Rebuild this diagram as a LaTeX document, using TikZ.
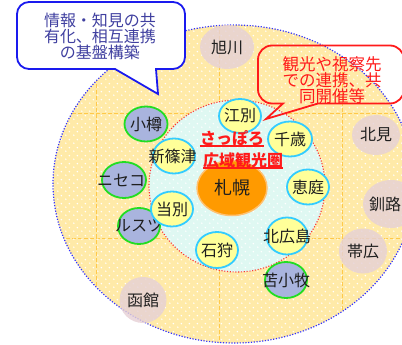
\documentclass[tikz,border=0pt]{standalone}
\usepackage{fontspec}
\newfontfamily\jp{Noto Sans CJK JP}
\usetikzlibrary{shapes.geometric,patterns.meta}
\definecolor{outerfill}{HTML}{FFEAA8}
\definecolor{innerfill}{HTML}{DFF8F2}
\definecolor{gridc}{HTML}{FFC94A}
\definecolor{bluedot}{HTML}{3333FF}
\definecolor{reddot}{HTML}{FF3333}
\definecolor{ylw}{HTML}{FFFF99}
\definecolor{cyanb}{HTML}{33CCFF}
\definecolor{lav}{HTML}{A9B4DE}
\definecolor{grn}{HTML}{22DD22}
\definecolor{pnk}{HTML}{E6D1D6}
\definecolor{org}{HTML}{FF9A00}
\definecolor{orgedge}{HTML}{FFC070}
\definecolor{txt}{HTML}{1E1E1E}
\definecolor{calloutblue}{HTML}{1A1AEE}
\definecolor{bluetxt}{HTML}{4040A0}
\definecolor{redc}{HTML}{FF1A1A}
\newcommand\zw[1]{\makebox[0pt]{#1}}
\tikzdeclarepattern{
  name=wdots,
  type=uncolored,
  bounding box={(0pt,0pt) and (8pt,8pt)},
  tile size={(8pt,8pt)},
  code={
    \fill (2pt,2pt) circle (0.9pt);
    \fill (6pt,6pt) circle (0.9pt);
  }
}
\begin{document}
\begin{tikzpicture}[x=1pt,y=-1pt,
  lbl/.style={font=\jp\fontsize{16}{17}\selectfont, text=txt},
  yc/.style={ellipse, lbl, fill=ylw, draw=cyanb, line width=1.8pt, inner sep=0pt},
  lc/.style={ellipse, lbl, fill=lav, draw=grn, line width=1.8pt, inner sep=0pt},
  pc/.style={ellipse, lbl, fill=pnk, fill opacity=0.82, text opacity=1, inner sep=0pt},
  gridline/.style={draw=gridc, line width=0.9pt, dash pattern=on 4pt off 2pt},
  saplabel/.style={font=\jp\bfseries\fontsize{16}{17}\selectfont, text=redc, inner sep=0pt},
  bluecall/.style={draw=calloutblue, fill=white, line width=1.8pt, line join=miter},
  redcall/.style={draw=redc, line width=1.8pt, line join=miter},
  bluetext/.style={font=\jp\fontsize{16}{16}\selectfont, text=bluetxt, align=center, inner sep=0pt},
  redtext/.style={font=\jp\fontsize{16.5}{16}\selectfont, text=redc, align=center, inner sep=0pt}
]
\useasboundingbox (0,0) rectangle (402,345);
\clip (0,0) rectangle (402,345);
% background ellipses
\fill[outerfill] (234,184) ellipse [x radius=181, y radius=159];
\begin{scope}
  \clip (234,184) ellipse [x radius=181, y radius=159];
  \foreach \x in {96,219,342} \draw[gridline] (\x,0) -- (\x,345);
  \foreach \y in {113,238} \draw[gridline] (0,\y) -- (402,\y);
  \fill[innerfill] (237,186) ellipse [x radius=88, y radius=86];
  \fill[pattern=wdots, pattern color=white] (0,0) rectangle (402,345);
\end{scope}
\draw[bluedot, line width=1.2pt, dash pattern=on 1.2pt off 1.6pt] (234,184) ellipse [x radius=181, y radius=159];
\draw[reddot, line width=1.1pt, dash pattern=on 1.1pt off 1.7pt] (237,186) ellipse [x radius=88, y radius=86];

% pink (outer region)
\node[pc, minimum width=54, minimum height=44] (asahikawa) at (227,47) {\zw{旭川}};
\node[pc, minimum width=48, minimum height=40] (kitami) at (376,135) {\zw{北見}};
\node[pc, minimum width=56, minimum height=48] (kushiro) at (391,204) {\zw{\hspace*{-12pt}釧路}};
\node[pc, minimum width=48, minimum height=45] (obihiro) at (363,251) {\zw{帯広}};
\node[pc, minimum width=47, minimum height=46] (hakodate) at (143,300) {\zw{函館}};

% lavender (green border)
\node[lc, minimum width=43, minimum height=35] (otaru) at (146,124) {\zw{小樽}};
\node[lc, minimum width=44, minimum height=36] (niseko) at (124,180) {\zw{\hspace*{-6pt}ニセコ}};
\node[lc, minimum width=42, minimum height=36] (rusutsu) at (139,226) {\zw{ルスツ}};
\node[lc, minimum width=42, minimum height=36] (tomakomai) at (286,280) {\zw{苫小牧}};

% yellow (cyan border)
\node[yc, minimum width=42, minimum height=34] (ebetsu) at (240,116) {\zw{江別}};
\node[yc, minimum width=44, minimum height=35] (chitose) at (290,139) {\zw{千歳}};
\node[yc, minimum width=42, minimum height=35] (shinshino) at (174,156) {\zw{\hspace*{-3pt}新篠津}};
\node[yc, minimum width=42, minimum height=35] (tobetsu) at (172,209) {\zw{当別}};
\node[yc, minimum width=42, minimum height=36] (ishikari) at (217,250) {\zw{石狩}};
\node[yc, minimum width=41, minimum height=37] (kitahiro) at (287,236) {\zw{北広島}};
\node[yc, minimum width=42, minimum height=35] (eniwa) at (308,187) {\zw{恵庭}};

% Sapporo
\node[ellipse, fill=org, draw=orgedge, line width=1.5pt, inner sep=0pt,
      minimum width=70, minimum height=55,
      font=\jp\fontsize{18}{19}\selectfont, text=txt] (sapporo) at (232,188) {\zw{札幌}};
\node[saplabel] (sap1) at (232,138) {さっぽろ};
\draw[redc, line width=1.6pt] (sap1.south west) -- (sap1.south east);
\node[saplabel] (sap2) at (243,160) {広域観光圏};
\draw[redc, line width=1.6pt] (sap2.south west) -- (sap2.south east);

% blue callout
\coordinate (btip) at (158,94);
\draw[bluecall] (115,69) -- (btip) -- (156,69) -- (173,69)
  .. controls (179.6,69) and (185,63.6) .. (185,57) -- (185,14)
  .. controls (185,7.4) and (179.6,2) .. (173,2) -- (29,2)
  .. controls (22.4,2) and (17,7.4) .. (17,14) -- (17,57)
  .. controls (17,63.6) and (22.4,69) .. (29,69) -- cycle;
\node[bluetext] (btext) at (100,36) {情報・知見の共\\有化、相互連携\\の基盤構築};

% red callout
\coordinate (rtip) at (266,119);
\draw[redcall] (283,103.5) -- (rtip) -- (318,103.5) -- (390,103.5)
  .. controls (397.7,103.5) and (404,97.2) .. (404,89.5) -- (404,59.5)
  .. controls (404,51.8) and (397.7,45.5) .. (390,45.5) -- (272,45.5)
  .. controls (264.3,45.5) and (258,51.8) .. (258,59.5) -- (258,89.5)
  .. controls (258,97.2) and (264.3,103.5) .. (272,103.5) -- cycle;
\node[redtext] (rtext) at (332,80) {観光や視察先\\での連携、共\\同開催等};
\end{tikzpicture}
\end{document}
